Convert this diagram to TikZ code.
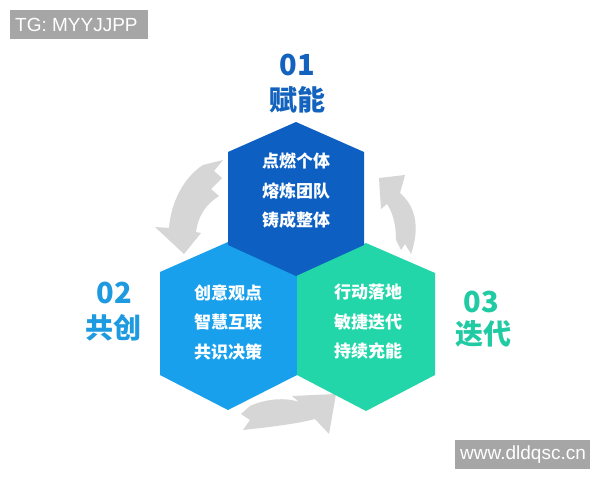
\documentclass[tikz,border=0pt]{standalone}
\usepackage{fontspec}
\newfontfamily\cjk{Noto Sans CJK SC}
\newfontfamily\wmfont{Liberation Sans}
\definecolor{hexdark}{RGB}{13,96,194}
\definecolor{hexleft}{RGB}{24,160,236}
\definecolor{hexright}{RGB}{34,214,170}
\definecolor{labdark}{RGB}{18,98,190}
\definecolor{lableft}{RGB}{30,154,224}
\definecolor{labright}{RGB}{32,202,162}
\definecolor{arrowgray}{RGB}{214,214,214}
\definecolor{wmgray}{RGB}{166,166,166}
\begin{document}
\begin{tikzpicture}[x=1pt,y=-1pt,
  hextext/.style={text=white,align=center,font=\cjk\bfseries\fontsize{17}{29.5}\selectfont,inner sep=0pt},
  numlab/.style={font=\cjk\bfseries\fontsize{29}{30}\selectfont,inner sep=0pt},
  wordlab/.style={font=\cjk\bfseries\fontsize{28}{30}\selectfont,inner sep=0pt},
  wmbox/.style={fill=wmgray,text=white,font=\wmfont\fontsize{19}{20}\selectfont,inner sep=0pt,anchor=west},
  garrow/.style={fill=arrowgray}]
\useasboundingbox (0,0) rectangle (600,480);
\fill[white] (0,0) rectangle (600,480);
% gray curved arrows
\fill[garrow] (223,160) -- (214,171) -- (222,178) -- (211,189) -- (219,196)
  .. controls (206,204) and (198,216) .. (196,232) -- (201,233) -- (184,254) -- (155,227) -- (169,228)
  .. controls (171,203) and (183,178) .. (203,165) -- cycle;
\fill[garrow] (379,178) -- (405,175) -- (400,193)
  .. controls (414,205) and (421,225) .. (411,254) -- (405,244) -- (401,250) -- (396,240)
  .. controls (396,225) and (393,213) .. (387,204) -- (381,209) -- cycle;
\fill[garrow] (336,394) -- (329,434) -- (315,419)
  .. controls (296,424) and (270,427) .. (243,430) -- (250,420) -- (241,414) -- (250,406)
  .. controls (265,399) and (285,397) .. (299,402) -- (292,396) -- cycle;
% hexagons
\fill[hexleft] (228,242) -- (297,273) -- (297,375) -- (228,410) -- (160,375) -- (160,272) -- cycle;
\fill[hexright] (366,243) -- (435,273) -- (435,375) -- (366,411) -- (297,375) -- (297,273) -- cycle;
\fill[hexdark] (296,122) -- (364,152) -- (364,245) -- (296,276) -- (228,245) -- (228,152) -- cycle;
% texts in hexagons
\node[hextext] (t1) at (296,191) {点燃个体\\熔炼团队\\铸成整体};
\node[hextext] (t2) at (228,322) {创意观点\\智慧互联\\共识决策};
\node[hextext] (t3) at (368,322) {行动落地\\敏捷迭代\\持续充能};
% labels
\node[numlab,text=labdark] (n1) at (297,65) {01};
\node[wordlab,text=labdark] (w1) at (297,100) {赋能};
\node[numlab,text=lableft] (n2) at (114,293) {02};
\node[wordlab,text=lableft] (w2) at (113,328) {共创};
\node[numlab,text=labright] (n3) at (481,302) {03};
\node[wordlab,text=labright] (w3) at (483,334) {迭代};
% watermarks
\fill[wmgray] (10,10) rectangle (148,39);
\node[wmbox] (wm1) at (15,25) {TG: MYYJJPP};
\fill[wmgray] (455,440) rectangle (590,469);
\node[wmbox] (wm2) at (460,455) {www.dldqsc.cn};
\end{tikzpicture}
\end{document}
